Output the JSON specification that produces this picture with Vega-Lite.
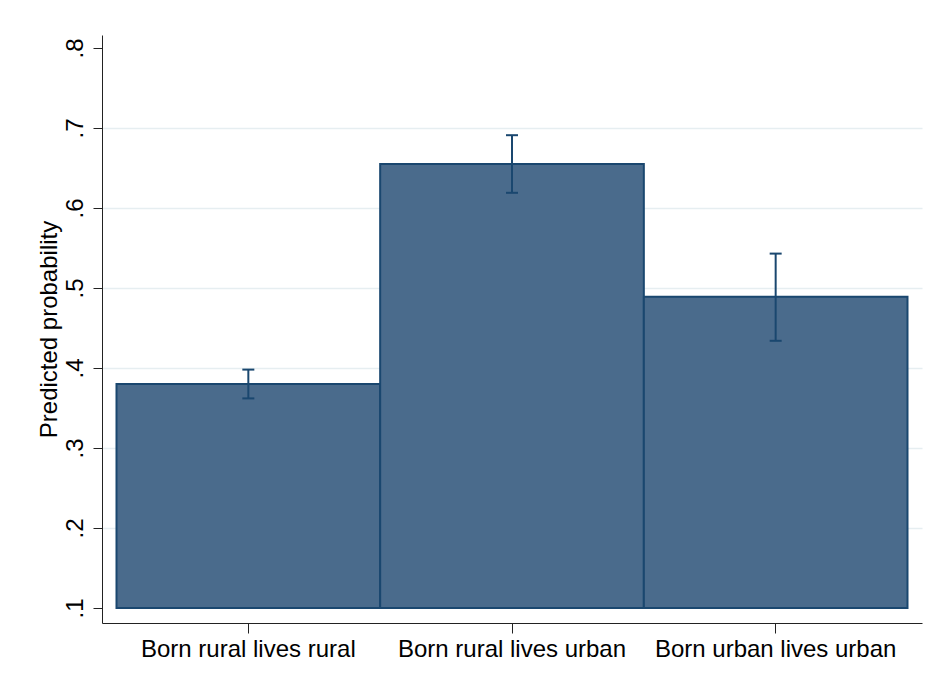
{
  "$schema": "https://vega.github.io/schema/vega-lite/v6.json",
  "width": 820,
  "height": 588,
  "autosize": "none",
  "padding": {"left": 102, "top": 35, "right": 13, "bottom": 61},
  "background": "white",
  "config": {"view": {"stroke": null}, "font": "Liberation Sans"},
  "data": {"values": [
    {"group": "Born rural lives rural", "p": 0.380, "lo": 0.362, "hi": 0.398},
    {"group": "Born rural lives urban", "p": 0.655, "lo": 0.619, "hi": 0.691},
    {"group": "Born urban lives urban", "p": 0.489, "lo": 0.434, "hi": 0.543}
  ]},
  "encoding": {
    "x": {
      "field": "group", "type": "nominal", "sort": null,
      "scale": {"paddingInner": 0, "paddingOuter": 0.055},
      "axis": {
        "title": null, "labelAngle": 0, "labelFontSize": 24, "labelColor": "#000", "labelLimit": 0,
        "domainColor": "#222", "domainWidth": 1, "tickColor": "#222", "tickSize": 10,
        "labelPadding": 4, "grid": false
      }
    }
  },
  "layer": [
    {
      "mark": {"type": "bar", "fill": "#4a6b8c", "stroke": "#1a476f", "strokeWidth": 2},
      "encoding": {
        "y": {
          "field": "p", "type": "quantitative",
          "scale": {"domain": [0.08125, 0.81625], "nice": false, "zero": false},
          "axis": {
            "title": "Predicted probability", "titleFontSize": 24, "titleFontWeight": "normal",
            "titleColor": "#000", "titlePadding": 2,
            "values": [0.1, 0.2, 0.3, 0.4, 0.5, 0.6, 0.7, 0.8],
            "labelExpr": "substring(format(datum.value, '.1f'), 1)",
            "labelAngle": 270, "labelFontSize": 24, "labelColor": "#000", "labelPadding": 6,
            "domainColor": "#222", "domainWidth": 1, "tickColor": "#222", "tickSize": 9,
            "grid": true, "gridColor": "#e6eef1", "gridWidth": 1.5,
            "gridOpacity": {"condition": {"test": "datum.value < 0.15 || datum.value > 0.75", "value": 0}, "value": 1}
          }
        },
        "y2": {"datum": 0.1}
      }
    },
    {
      "mark": {"type": "rule", "color": "#1a476f", "strokeWidth": 2},
      "encoding": {
        "y": {"field": "lo", "type": "quantitative"},
        "y2": {"field": "hi"}
      }
    },
    {
      "mark": {"type": "tick", "color": "#1a476f", "thickness": 2, "size": 12, "opacity": 1},
      "encoding": {"y": {"field": "lo", "type": "quantitative"}}
    },
    {
      "mark": {"type": "tick", "color": "#1a476f", "thickness": 2, "size": 12, "opacity": 1},
      "encoding": {"y": {"field": "hi", "type": "quantitative"}}
    }
  ]
}
